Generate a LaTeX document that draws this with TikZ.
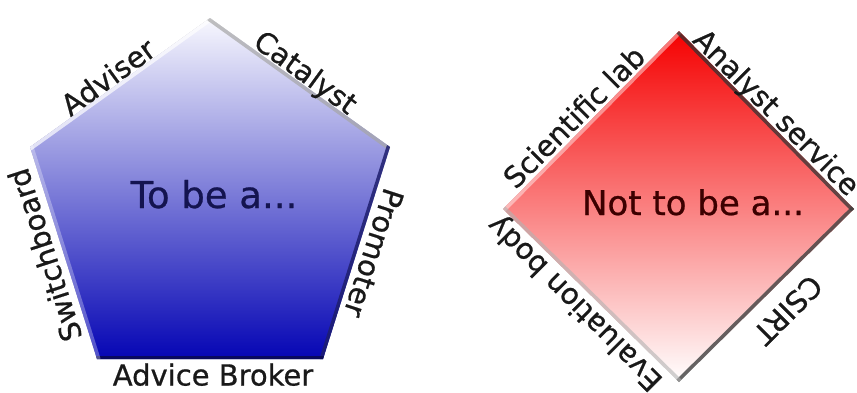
\documentclass[tikz,border=0pt]{standalone}
\usepackage{fontspec}
\setmainfont{DejaVu Sans}
\newfontfamily\lblfont[FakeBold=0.7]{DejaVu Sans}
\definecolor{navytext}{RGB}{20,20,80}
\definecolor{maroontext}{RGB}{60,0,0}
\definecolor{penbottom}{RGB}{5,5,180}
\definecolor{penmid}{RGB}{118,118,228}
\definecolor{pentop}{RGB}{248,248,254}
\definecolor{penshadeR}{RGB}{30,30,110}
\definecolor{penshadeB}{RGB}{10,10,80}
\definecolor{dmtop}{RGB}{245,0,0}
\definecolor{dmmid}{RGB}{242,88,88}
\begin{document}
\begin{tikzpicture}[x=1pt,y=-1pt,
  edgelbl/.style={font=\lblfont\fontsize{29}{29}\selectfont, text=black!90,
    inner sep=0pt, text height=21pt, text depth=0pt, anchor=center},
  centrelbl/.style={inner sep=0pt, text height=26pt, text depth=0pt, anchor=center},
  bevel/.style={line width=7pt, line cap=round}]
\useasboundingbox (0,0) rectangle (857,392);

% ---------- pentagon ----------
\coordinate (pT)  at (210,18);
\coordinate (pR)  at (390,147);
\coordinate (pBR) at (323,359);
\coordinate (pBL) at (97,359);
\coordinate (pL)  at (30,147);

% soft drop shadow
\foreach \d in {1,2,3,4}
  \fill[black, opacity=0.07, shift={(\d,\d)}]
    (pT) -- (pR) -- (pBR) -- (pBL) -- (pL) -- cycle;

\shade[top color=pentop, middle color=penmid, bottom color=penbottom]
  (pT) -- (pR) -- (pBR) -- (pBL) -- (pL) -- cycle;

\begin{scope}
  \clip (pT) -- (pR) -- (pBR) -- (pBL) -- (pL) -- cycle;
  \draw[bevel, white, opacity=0.7] (pL) -- (pT);
  \draw[bevel, gray!70, opacity=0.7] (pT) -- (pR);
  \draw[bevel, penshadeR, opacity=0.85] (pR) -- (pBR);
  \draw[bevel, penshadeB, opacity=0.85] (pBR) -- (pBL);
  \draw[bevel, white, opacity=0.3] (pBL) -- (pL);
\end{scope}

\node[centrelbl, font=\lblfont\fontsize{37}{37}\selectfont, text=navytext] (tobe) at (214,195) {To be a...};

\node[edgelbl, rotate=36]   (adviser)  at (108,77)  {Adviser};
\node[edgelbl, rotate=-36]  (catalyst) at (306,72)  {Catalyst};
\node[edgelbl, rotate=108]  (switch)   at (45,255)  {Switchboard};
\node[edgelbl, rotate=-108] (promoter) at (374,253) {Promoter};
\node[edgelbl]              (broker)   at (213,375) {Advice Broker};

% ---------- diamond ----------
\coordinate (dT) at (679,31);
\coordinate (dR) at (854,209);
\coordinate (dB) at (679,382);
\coordinate (dL) at (503,209);

\foreach \d in {1,2,3,4}
  \fill[black, opacity=0.07, shift={(\d,\d)}]
    (dT) -- (dR) -- (dB) -- (dL) -- cycle;

\shade[top color=dmtop, middle color=dmmid, bottom color=white]
  (dT) -- (dR) -- (dB) -- (dL) -- cycle;

\begin{scope}
  \clip (dT) -- (dR) -- (dB) -- (dL) -- cycle;
  \draw[bevel, white, opacity=0.45] (dL) -- (dT);
  \draw[bevel, black!80, opacity=0.75] (dT) -- (dR);
  \draw[bevel, black!75, opacity=0.8] (dR) -- (dB);
  \draw[bevel, gray!60, opacity=0.6] (dB) -- (dL);
\end{scope}

\node[centrelbl, font=\lblfont\fontsize{34}{34}\selectfont, text=maroontext] (nottobe) at (693,202) {Not to be a...};

\node[edgelbl, rotate=45]   (scilab)   at (574,117) {Scientific lab};
\node[edgelbl, rotate=-45]  (analyst)  at (777,112) {Analyst service};
\node[edgelbl, rotate=135]  (evalbody) at (574,304) {Evaluation body};
\node[edgelbl, rotate=-135] (csirt)    at (788,310) {CSIRT};
\end{tikzpicture}
\end{document}
